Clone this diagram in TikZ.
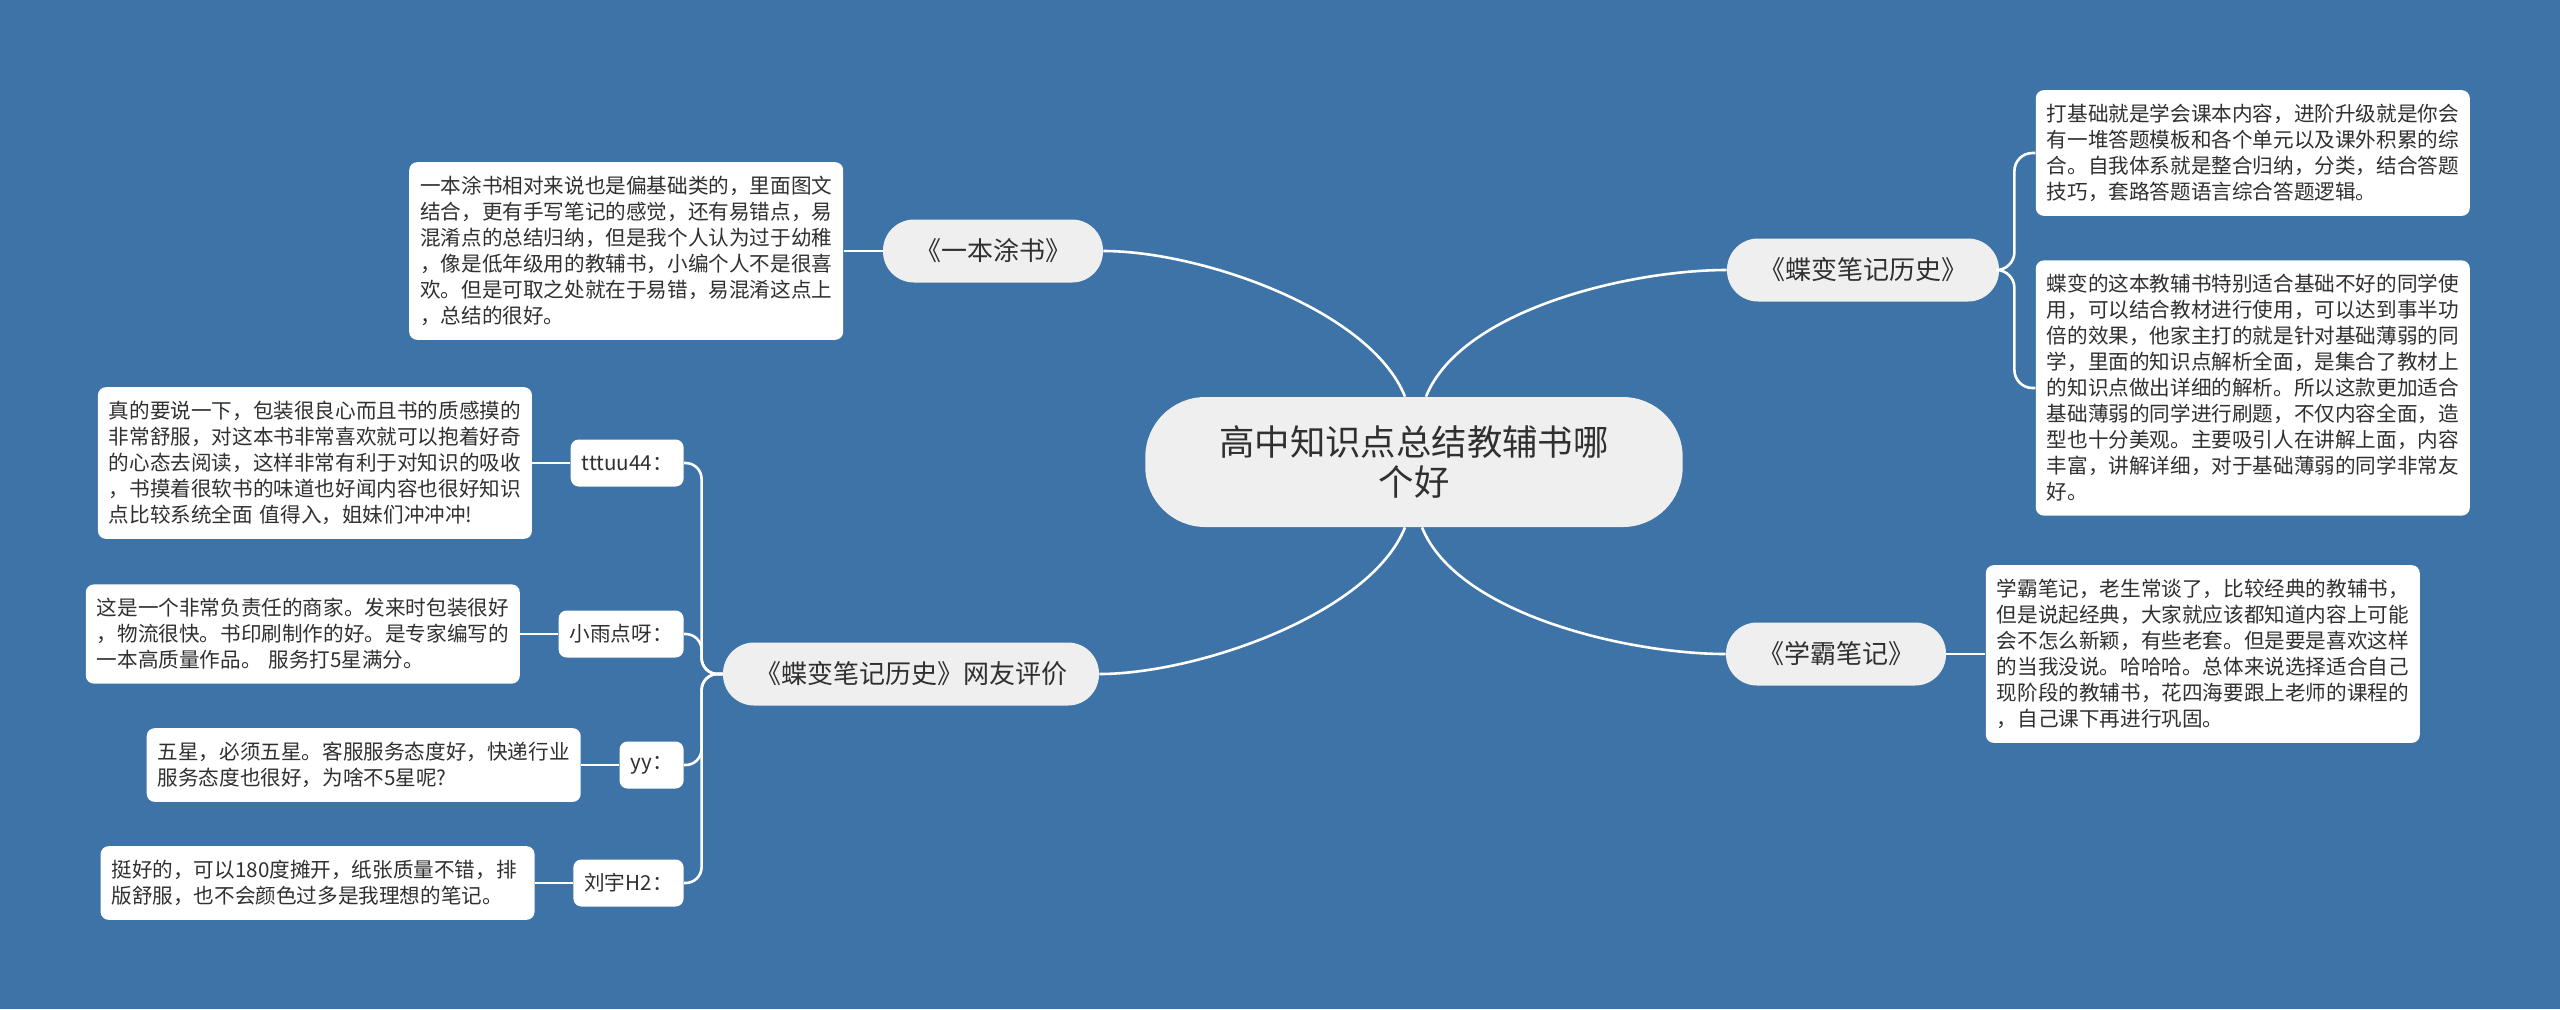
\documentclass[tikz,border=0pt]{standalone}
\usepackage{fontspec}
\setmainfont{Noto Sans CJK SC}
\usetikzlibrary{positioning}
\definecolor{bgblue}{HTML}{3D73A6}
\definecolor{nodegray}{HTML}{EFEFEF}
\definecolor{txt}{HTML}{303030}
\tikzstyle{root}=[rectangle,rounded corners=30pt,fill=nodegray,align=center,inner xsep=37pt,minimum height=65pt,font=\fontsize{17.7pt}{20pt}\selectfont,text=txt]
\tikzstyle{topic}=[rectangle,rounded corners=15.5pt,fill=nodegray,align=center,inner xsep=16pt,minimum height=31.5pt,font=\fontsize{13pt}{16pt}\selectfont,text=txt]
\tikzstyle{leaf}=[rectangle,rounded corners=4pt,fill=white,align=left,text width=206pt,inner xsep=5.5pt,inner ysep=7pt,font=\fontsize{10.3pt}{13pt}\selectfont,text=txt]
\tikzstyle{user}=[rectangle,rounded corners=4pt,fill=white,inner xsep=5.5pt,minimum height=23.5pt,font=\fontsize{10.3pt}{13pt}\selectfont,text=txt,anchor=east]
\tikzstyle{link}=[draw=white,line width=1.3pt]

\begin{document}
\begin{tikzpicture}[x=0.5pt,y=-0.5pt]
\fill[bgblue] (0,0) rectangle (2560,1009);
\node[root] (c) at (1414,462) {高中知识点总结教辅书哪\\个好};
\node[topic] (yb) at (993,251) {《一本涂书》};
\node[topic] (db) at (1863,270) {《蝶变笔记历史》};
\node[topic] (xb) at (1836,654) {《学霸笔记》};
\node[topic] (pj) at (911,674) {《蝶变笔记历史》网友评价};
\node[leaf, left=19.5pt of yb] (yb1) {一本涂书相对来说也是偏基础类的，里面图文\\结合，更有手写笔记的感觉，还有易错点，易\\混淆点的总结归纳，但是我个人认为过于幼稚\\，像是低年级用的教辅书，小编个人不是很喜\\欢。但是可取之处就在于易错，易混淆这点上\\，总结的很好。};
\node[leaf, right=18pt of db, yshift=58.5pt] (db1) {打基础就是学会课本内容，进阶升级就是你会\\有一堆答题模板和各个单元以及课外积累的综\\合。自我体系就是整合归纳，分类，结合答题\\技巧，套路答题语言综合答题逻辑。};
\node[leaf, right=18pt of db, yshift=-59pt] (db2) {蝶变的这本教辅书特别适合基础不好的同学使\\用，可以结合教材进行使用，可以达到事半功\\倍的效果，他家主打的就是针对基础薄弱的同\\学，里面的知识点解析全面，是集合了教材上\\的知识点做出详细的解析。所以这款更加适合\\基础薄弱的同学进行刷题，不仅内容全面，造\\型也十分美观。主要吸引人在讲解上面，内容\\丰富，讲解详细，对于基础薄弱的同学非常友\\好。};
\node[leaf, right=19.5pt of xb] (xb1) {学霸笔记，老生常谈了，比较经典的教辅书，\\但是说起经典，大家就应该都知道内容上可能\\会不怎么新颖，有些老套。但是要是喜欢这样\\的当我没说。哈哈哈。总体来说选择适合自己\\现阶段的教辅书，花四海要跟上老师的课程的\\，自己课下再进行巩固。};
\node[user] (u1) at (684,463) {tttuu44：};
\node[user] (u2) at (684,634) {小雨点呀：};
\node[user] (u3) at (684,765) {yy：};
\node[user] (u4) at (684,883) {刘宇H2：};
\node[leaf, left=19pt of u1] (t1) {真的要说一下，包装很良心而且书的质感摸的\\非常舒服，对这本书非常喜欢就可以抱着好奇\\的心态去阅读，这样非常有利于对知识的吸收\\，书摸着很软书的味道也好闻内容也很好知识\\点比较系统全面 值得入，姐妹们冲冲冲!};
\node[leaf, left=19pt of u2] (t2) {这是一个非常负责任的商家。发来时包装很好\\，物流很快。书印刷制作的好。是专家编写的\\一本高质量作品。 服务打5星满分。};
\node[leaf, left=19pt of u3] (t3) {五星，必须五星。客服服务态度好，快递行业\\服务态度也很好，为啥不5星呢?};
\node[leaf, left=19pt of u4] (t4) {挺好的，可以180度摊开，纸张质量不错，排\\版舒服，也不会颜色过多是我理想的笔记。};
\coordinate (pjs) at ([xshift=-10.5pt]pj.west);
\coordinate (dbs) at ([xshift=7.5pt]db.east);
\draw[link] (yb.east) .. controls +(97,0) and +(-35,-87) .. ([xshift=-4.5pt]c.north);
\draw[link] (db.west) .. controls +(-97,0) and +(35,-87) .. ([xshift=6pt]c.north);
\draw[link] (xb.west) .. controls +(-97,0) and +(35,87) .. ([xshift=4pt]c.south);
\draw[link] (pj.east) .. controls +(97,0) and +(-35,87) .. ([xshift=-4.5pt]c.south);
\draw[link] (yb1) -- (yb);
\draw[link] (xb) -- (xb1);
\draw[link,rounded corners=9pt] (db.east) -- (dbs) |- (db1.west);
\draw[link,rounded corners=9pt] (db.east) -- (dbs) |- (db2.west);
\foreach \i in {1,...,4} {
  \draw[link,rounded corners=8pt] (pj.west) -- (pjs) |- (u\i.east);
  \draw[link] (t\i) -- (u\i);
}
\end{tikzpicture}
\end{document}
